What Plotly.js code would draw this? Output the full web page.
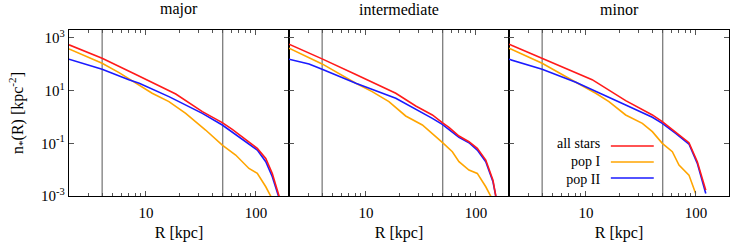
<!DOCTYPE html>
<html>
<head>
<meta charset="utf-8">
<script src="https://cdn.plot.ly/plotly-3.0.1.min.js"></script>
<style>html,body{margin:0;padding:0;background:#fff;}#chart{width:747px;height:247px;}</style>
</head>
<body>
<div id="chart"></div>
<script>
// ---- data ----
const panelTitles = ['major', 'intermediate', 'minor'];
const seriesNames = ['all stars', 'pop I', 'pop II'];
const refRadii = [4, 50];

const xTickVals = [10, 100];
const xTickText = ['10', '100'];
const xMinorVals = [3, 4, 5, 6, 7, 8, 9, 20, 30, 40, 50, 60, 70, 80, 90];
const yTickVals = [1e-3, 1e-1, 1e1, 1e3];
const yTickText = ['10<sup>-3</sup>', '10<sup>-1</sup>', '10<sup>1</sup>', '10<sup>3</sup>'];

// major
const majorAllR = [2.0, 4.0, 8.1, 18.7, 32.6, 49.5, 61, 81, 103, 123, 141, 163];
const majorAllN = [545, 169, 41, 7.4, 1.59, 0.607, 0.339, 0.133, 0.0641, 0.0267, 0.0072, 0.00095];
const majorPop1R = [2.0, 4.0, 5.7, 8.7, 11.4, 16.2, 23.0, 34.9, 49.5, 65.5, 86.5, 103, 123, 137];
const majorPop1N = [384, 109, 48.3, 16.4, 7.9, 3.82, 1.37, 0.319, 0.0859, 0.0358, 0.0111, 0.0072, 0.00224, 0.00095];
const majorPop2R = [2.0, 4.0, 7.0, 8.7, 16.2, 32.6, 49.5, 81, 103, 123, 141, 161];
const majorPop2N = [155, 64.7, 26, 19, 5.9, 1.37, 0.495, 0.115, 0.0554, 0.0200, 0.0054, 0.00095];

// intermediate
const interAllR = [2.0, 2.84, 4.0, 8.1, 18.7, 28.4, 40.2, 49.5, 56.9, 70.2, 86.5, 103, 123, 143, 152];
const interAllN = [578, 304, 160, 41, 7.9, 2.61, 1.19, 0.607, 0.404, 0.189, 0.115, 0.0641, 0.0231, 0.00401, 0.00095];
const interPop1R = [2.0, 4.0, 8.1, 11.4, 16.2, 23.0, 32.6, 40.2, 49.5, 61.1, 70.2, 86.5, 103, 123, 137];
const interPop1N = [407, 103, 19, 9.16, 3.82, 1.09, 0.495, 0.239, 0.1086, 0.048, 0.0200, 0.00964, 0.0072, 0.00224, 0.00095];
const interPop2R = [2.0, 3.04, 4.0, 8.1, 18.7, 28.4, 40.2, 49.5, 56.9, 70.2, 86.5, 103, 123, 143, 152];
const interPop2N = [155, 103, 64.7, 19, 5.11, 2.01, 0.887, 0.525, 0.339, 0.168, 0.1055, 0.0554, 0.0200, 0.00347, 0.00095];

// minor
const minorAllR = [2.0, 4.0, 8.1, 11.4, 23.0, 40.2, 49.5, 65.5, 86.5, 103, 123];
const minorAllN = [578, 169, 47, 26, 4.17, 1.19, 0.663, 0.253, 0.1055, 0.0200, 0.00167];
const minorPop1R = [2.0, 4.0, 8.1, 12.3, 16.2, 23.0, 32.6, 40.2, 49.5, 61.1, 70.2, 86.5, 99.5];
const minorPop1N = [407, 109, 20.7, 7.92, 3.82, 1.19, 0.573, 0.276, 0.0995, 0.048, 0.0149, 0.00621, 0.00125];
const minorPop2R = [2.0, 4.0, 8.1, 11.4, 23.0, 40.2, 49.5, 65.5, 86.5, 103, 123];
const minorPop2N = [155, 64.7, 20.7, 10.6, 2.85, 0.968, 0.573, 0.239, 0.0938, 0.0173, 0.00125];

// ---- styling ----
const colors = ['#ff1a1a', '#ffa500', '#1a1aff'];
const FONT = '"Liberation Serif", "Times New Roman", serif';

const panelData = [
  [[majorAllR, majorAllN], [majorPop1R, majorPop1N], [majorPop2R, majorPop2N]],
  [[interAllR, interAllN], [interPop1R, interPop1N], [interPop2R, interPop2N]],
  [[minorAllR, minorAllN], [minorPop1R, minorPop1N], [minorPop2R, minorPop2N]]
];

const traces = [];
panelData.forEach((series, p) => {
  const xa = p === 0 ? 'x' : 'x' + (p + 1);
  const ya = p === 0 ? 'y' : 'y' + (p + 1);
  [1, 2, 0].forEach(s => {
    traces.push({
      x: series[s][0], y: series[s][1], xaxis: xa, yaxis: ya,
      type: 'scatter', mode: 'lines', name: seriesNames[s],
      line: {color: colors[s], width: 1.6},
      showlegend: false, hoverinfo: 'skip'
    });
  });
});

const layout = {
  width: 747, height: 247,
  margin: {l: 69, r: 18, t: 30, b: 51, pad: 0},
  paper_bgcolor: '#fff', plot_bgcolor: '#fff',
  font: {family: FONT, size: 15, color: '#000'},
  showlegend: false,
  annotations: [], shapes: []
};

const xr = [Math.log10(2), Math.log10(200)];
for (let p = 0; p < 3; p++) {
  const sfx = p === 0 ? '' : String(p + 1);
  layout['xaxis' + sfx] = {
    domain: [p / 3, (p + 1) / 3], anchor: 'y' + sfx,
    type: 'log', range: xr, tickmode: 'array', tickvals: xTickVals, ticktext: xTickText,
    ticks: 'inside', ticklen: 5, tickwidth: 1, tickcolor: '#555',
    minor: {tickmode: 'array', tickvals: xMinorVals, ticks: 'inside', ticklen: 3, tickwidth: 1, tickcolor: '#555', showgrid: false},
    showline: true, linecolor: '#000', linewidth: 1.3, mirror: 'ticks',
    showgrid: false, zeroline: false,
    ticklabelstandoff: 3,
    tickfont: {family: FONT, size: 15, color: '#000'},
    title: {text: 'R [kpc]', font: {family: FONT, size: 16, color: '#000'}, standoff: 6}
  };
  layout['yaxis' + sfx] = {
    domain: [0, 1], anchor: 'x' + sfx,
    type: 'log', range: [-3, 3.3], tickmode: 'array', tickvals: yTickVals, ticktext: yTickText,
    showticklabels: p === 0,
    ticks: 'inside', ticklen: 5, tickwidth: 1, tickcolor: '#555',
    showline: true, linecolor: '#000', linewidth: 1.3, mirror: 'ticks',
    showgrid: false, zeroline: false,
    tickfont: {family: FONT, size: 15, color: '#000'},
    title: p === 0 ? {text: 'n<sub>*</sub>(R) [kpc<sup>-2</sup>]', font: {family: FONT, size: 16, color: '#000'}, standoff: 13} : {text: ''}
  };
  layout.annotations.push({
    text: panelTitles[p], xref: 'paper', yref: 'paper',
    x: (p + 0.5) / 3, y: 1, xanchor: 'center', yanchor: 'bottom', yshift: 10,
    showarrow: false, font: {family: FONT, size: 16, color: '#000'}
  });
  refRadii.forEach(r => {
    layout.shapes.push({
      type: 'line', xref: 'x' + sfx, yref: 'y' + sfx + ' domain',
      x0: r, x1: r, y0: 0, y1: 1, layer: 'below',
      line: {color: '#555', width: 1}
    });
  });
}

// legend: right-aligned text block with line samples to the right, inside the third panel
layout.annotations.push({
  text: seriesNames.join('<br>'), xref: 'paper', yref: 'paper', x: 0.806, y: 0.205,
  xanchor: 'right', yanchor: 'middle', align: 'right', showarrow: false, borderpad: 0,
  font: {family: FONT, size: 14, color: '#000'}
});
const legY = [0.301, 0.205, 0.108];
seriesNames.forEach((nm, i) => {
  layout.shapes.push({
    type: 'line', xref: 'paper', yref: 'paper',
    x0: 0.821, x1: 0.886, y0: legY[i], y1: legY[i],
    line: {color: colors[i], width: 1.6}
  });
});

Plotly.newPlot('chart', traces, layout, {staticPlot: true, displayModeBar: false});
</script>
</body>
</html>
